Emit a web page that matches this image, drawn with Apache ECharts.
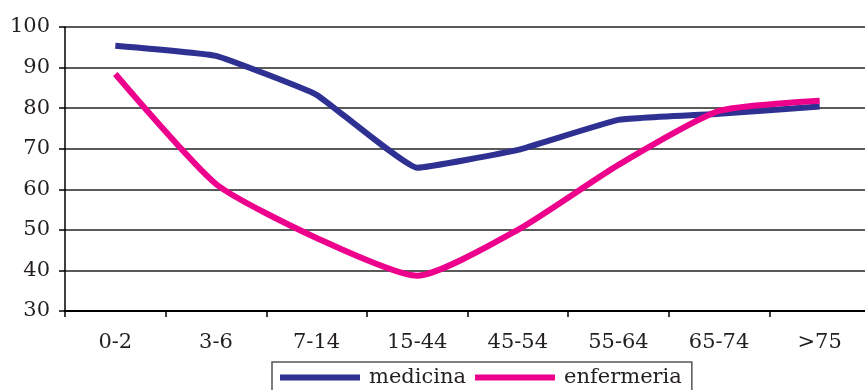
<!DOCTYPE html>
<html>
<head>
<meta charset="utf-8">
<script src="https://cdn.jsdelivr.net/npm/echarts@6/dist/echarts.min.js"></script>
<style>
  html, body { margin: 0; padding: 0; background: #fff; }
  #chart { width: 865px; height: 390px; }
</style>
</head>
<body>
<div id="chart"></div>
<script>
// Age groups along the x axis
const ageGroups = ['0-2', '3-6', '7-14', '15-44', '45-54', '55-64', '65-74', '>75'];
// Series values (%)
const medicina = [95.4, 92.9, 83.3, 65.3, 69.7, 77.1, 78.6, 80.4];
const enfermeria = [88.4, 61.3, 48.0, 38.7, 50.0, 66.0, 79.3, 81.8];
// Y axis range
const yMin = 30, yMax = 100, yStep = 10;

const serif = '"DejaVu Serif", "Liberation Serif", serif';
const textColor = '#231f20';

const chart = echarts.init(document.getElementById('chart'));
chart.setOption({
  animation: false,
  backgroundColor: '#fff',
  grid: {
    left: 65, top: 27, width: 805, height: 284,
    outerBoundsMode: 'none'
  },
  xAxis: {
    type: 'category',
    data: ageGroups,
    boundaryGap: true,
    axisLine: { lineStyle: { color: '#000', width: 2 } },
    axisTick: { show: true, alignWithLabel: false, length: 6, lineStyle: { color: '#000', width: 1.5 } },
    axisLabel: { color: textColor, fontFamily: serif, fontSize: 21, margin: 21 },
    splitLine: { show: false }
  },
  yAxis: {
    type: 'value',
    min: yMin, max: yMax, interval: yStep,
    axisLine: { show: true, lineStyle: { color: '#000', width: 1.5 } },
    axisTick: { show: true, length: 6, lineStyle: { color: '#000', width: 1.5 } },
    axisLabel: { color: textColor, fontFamily: serif, fontSize: 21, margin: 15 },
    splitLine: { show: true, lineStyle: { color: '#5a5a5a', width: 2 } }
  },
  legend: {
    left: 272, top: 362,
    padding: [5, 10, 12, 8],
    borderColor: '#555', borderWidth: 1.5,
    itemGap: 9,
    itemWidth: 80, itemHeight: 6,
    icon: 'rect',
    itemStyle: { borderWidth: 0 },
    textStyle: { color: textColor, fontFamily: serif, fontSize: 21, padding: [0, 0, 0, 4] },
    data: ['medicina', 'enfermeria']
  },
  series: [
    {
      name: 'medicina', type: 'line', data: medicina,
      symbol: 'none', smooth: 0.1,
      lineStyle: { color: '#2e3192', width: 6 },
      itemStyle: { color: '#2e3192' }
    },
    {
      name: 'enfermeria', type: 'line', data: enfermeria,
      symbol: 'none', smooth: 0.2,
      lineStyle: { color: '#ec008c', width: 6 },
      itemStyle: { color: '#ec008c' }
    }
  ]
});
</script>
</body>
</html>
